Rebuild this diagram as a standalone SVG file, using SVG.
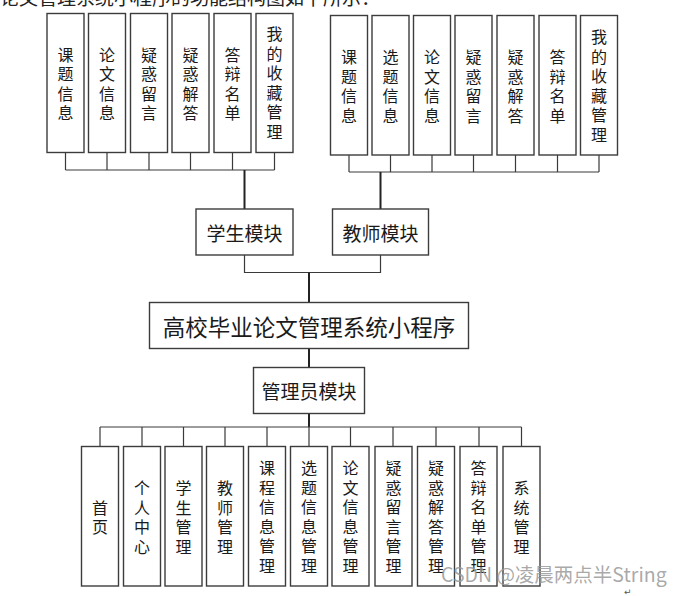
<svg xmlns="http://www.w3.org/2000/svg" width="678" height="596" viewBox="0 0 678 596">
<style>
.box{fill:#fff;stroke:#3c3c3c;stroke-width:1.4}
.t{font-family:"Noto Sans CJK SC","Noto Sans",sans-serif;font-size:16px;fill:#1a1a1a;text-anchor:middle;dominant-baseline:central}
.m{font-family:"Noto Sans CJK SC","Noto Sans",sans-serif;font-size:19px;fill:#1a1a1a;text-anchor:middle;dominant-baseline:central}
.c{fill:none;stroke:#3a3a3a;stroke-width:1.2}
.k{fill:none;stroke:#222;stroke-width:2}
</style>
<rect width="678" height="596" fill="#fff"/>
<text x="0" y="5" style="font-family:'Noto Sans CJK SC',sans-serif;font-size:19px;fill:#222">论文管理系统小程序的功能结构图如下所示：</text>
<g id="connectors">
<path class="c" d="M65.5 152V170M107 152V170M149 152V170M190.5 152V170M232.5 152V170M274.5 152V170M65.5 170H274.5"/>
<path class="k" d="M244.5 170V209"/>
<path class="c" d="M349 155V172M390.5 155V172M432 155V172M473.5 155V172M515.5 155V172M557.5 155V172M599 155V172M349 172H599"/>
<path class="k" d="M380.5 172V209"/>
<path class="c" d="M244.5 255V272.5H380.5V255"/>
<path class="k" d="M309 272.5V302M309 349V367M309 414V427"/>
<path class="c" d="M100 427H521.5M100 427V446M142 427V446M183.5 427V446M225 427V446M267 427V446M309 427V446M350.5 427V446M393 427V446M436 427V446M479 427V446M521.5 427V446"/>
</g>
<g id="s1"><rect class="box" x="47" y="13.5" width="37" height="139"/><text class="t"><tspan x="65.5" y="53.5">课</tspan><tspan x="65.5" y="73">题</tspan><tspan x="65.5" y="92.5">信</tspan><tspan x="65.5" y="112">息</tspan></text></g>
<g id="s2"><rect class="box" x="88.5" y="13.5" width="37" height="139"/><text class="t"><tspan x="107" y="53.5">论</tspan><tspan x="107" y="73">文</tspan><tspan x="107" y="92.5">信</tspan><tspan x="107" y="112">息</tspan></text></g>
<g id="s3"><rect class="box" x="130.5" y="13.5" width="37" height="139"/><text class="t"><tspan x="149" y="53.5">疑</tspan><tspan x="149" y="73">惑</tspan><tspan x="149" y="92.5">留</tspan><tspan x="149" y="112">言</tspan></text></g>
<g id="s4"><rect class="box" x="172" y="13.5" width="37" height="139"/><text class="t"><tspan x="190.5" y="53.5">疑</tspan><tspan x="190.5" y="73">惑</tspan><tspan x="190.5" y="92.5">解</tspan><tspan x="190.5" y="112">答</tspan></text></g>
<g id="s5"><rect class="box" x="214" y="13.5" width="37" height="139"/><text class="t"><tspan x="232.5" y="53.5">答</tspan><tspan x="232.5" y="73">辩</tspan><tspan x="232.5" y="92.5">名</tspan><tspan x="232.5" y="112">单</tspan></text></g>
<g id="s6"><rect class="box" x="256" y="13.5" width="37" height="139"/><text class="t"><tspan x="274.5" y="33">我</tspan><tspan x="274.5" y="52.5">的</tspan><tspan x="274.5" y="72">收</tspan><tspan x="274.5" y="91.5">藏</tspan><tspan x="274.5" y="111">管</tspan><tspan x="274.5" y="130.5">理</tspan></text></g>
<g id="t1"><rect class="box" x="330.5" y="15.5" width="37" height="139.5"/><text class="t"><tspan x="349" y="56">课</tspan><tspan x="349" y="75.5">题</tspan><tspan x="349" y="95">信</tspan><tspan x="349" y="114.5">息</tspan></text></g>
<g id="t2"><rect class="box" x="372" y="15.5" width="37" height="139.5"/><text class="t"><tspan x="390.5" y="56">选</tspan><tspan x="390.5" y="75.5">题</tspan><tspan x="390.5" y="95">信</tspan><tspan x="390.5" y="114.5">息</tspan></text></g>
<g id="t3"><rect class="box" x="413.5" y="15.5" width="37" height="139.5"/><text class="t"><tspan x="432" y="56">论</tspan><tspan x="432" y="75.5">文</tspan><tspan x="432" y="95">信</tspan><tspan x="432" y="114.5">息</tspan></text></g>
<g id="t4"><rect class="box" x="455" y="15.5" width="37" height="139.5"/><text class="t"><tspan x="473.5" y="56">疑</tspan><tspan x="473.5" y="75.5">惑</tspan><tspan x="473.5" y="95">留</tspan><tspan x="473.5" y="114.5">言</tspan></text></g>
<g id="t5"><rect class="box" x="497" y="15.5" width="37" height="139.5"/><text class="t"><tspan x="515.5" y="56">疑</tspan><tspan x="515.5" y="75.5">惑</tspan><tspan x="515.5" y="95">解</tspan><tspan x="515.5" y="114.5">答</tspan></text></g>
<g id="t6"><rect class="box" x="539" y="15.5" width="37" height="139.5"/><text class="t"><tspan x="557.5" y="56">答</tspan><tspan x="557.5" y="75.5">辩</tspan><tspan x="557.5" y="95">名</tspan><tspan x="557.5" y="114.5">单</tspan></text></g>
<g id="t7"><rect class="box" x="580.5" y="15.5" width="37" height="139.5"/><text class="t"><tspan x="599" y="36">我</tspan><tspan x="599" y="55.5">的</tspan><tspan x="599" y="75">收</tspan><tspan x="599" y="94.5">藏</tspan><tspan x="599" y="114">管</tspan><tspan x="599" y="133.5">理</tspan></text></g>
<g id="student"><rect class="box" x="196" y="209" width="97" height="46"/><text class="m" x="244.5" y="232">学生模块</text></g>
<g id="teacher"><rect class="box" x="332.5" y="209" width="96" height="46"/><text class="m" x="380.5" y="232">教师模块</text></g>
<g id="main"><rect class="box" x="149.5" y="302.5" width="319" height="46"/><text class="m" x="309" y="325.5" style="font-size:22.5px">高校毕业论文管理系统小程序</text></g>
<g id="admin"><rect class="box" x="253.5" y="367.5" width="111" height="46"/><text class="m" x="309" y="390.5">管理员模块</text></g>
<g id="b1"><rect class="box" x="81.5" y="446.5" width="37" height="139.5"/><text class="t"><tspan x="100" y="506.5">首</tspan><tspan x="100" y="525.5">页</tspan></text></g>
<g id="b2"><rect class="box" x="123.5" y="446.5" width="37" height="139.5"/><text class="t"><tspan x="142" y="487">个</tspan><tspan x="142" y="506.5">人</tspan><tspan x="142" y="526">中</tspan><tspan x="142" y="545.5">心</tspan></text></g>
<g id="b3"><rect class="box" x="165" y="446.5" width="37" height="139.5"/><text class="t"><tspan x="183.5" y="487">学</tspan><tspan x="183.5" y="506.5">生</tspan><tspan x="183.5" y="526">管</tspan><tspan x="183.5" y="545.5">理</tspan></text></g>
<g id="b4"><rect class="box" x="206.5" y="446.5" width="37" height="139.5"/><text class="t"><tspan x="225" y="487">教</tspan><tspan x="225" y="506.5">师</tspan><tspan x="225" y="526">管</tspan><tspan x="225" y="545.5">理</tspan></text></g>
<g id="b5"><rect class="box" x="248.5" y="446.5" width="37" height="139.5"/><text class="t"><tspan x="267" y="467">课</tspan><tspan x="267" y="486.5">程</tspan><tspan x="267" y="506">信</tspan><tspan x="267" y="525.5">息</tspan><tspan x="267" y="545">管</tspan><tspan x="267" y="564.5">理</tspan></text></g>
<g id="b6"><rect class="box" x="290.5" y="446.5" width="37" height="139.5"/><text class="t"><tspan x="309" y="467">选</tspan><tspan x="309" y="486.5">题</tspan><tspan x="309" y="506">信</tspan><tspan x="309" y="525.5">息</tspan><tspan x="309" y="545">管</tspan><tspan x="309" y="564.5">理</tspan></text></g>
<g id="b7"><rect class="box" x="332" y="446.5" width="37" height="139.5"/><text class="t"><tspan x="350.5" y="467">论</tspan><tspan x="350.5" y="486.5">文</tspan><tspan x="350.5" y="506">信</tspan><tspan x="350.5" y="525.5">息</tspan><tspan x="350.5" y="545">管</tspan><tspan x="350.5" y="564.5">理</tspan></text></g>
<g id="b8"><rect class="box" x="375" y="446.5" width="37" height="139.5"/><text class="t"><tspan x="393.5" y="467">疑</tspan><tspan x="393.5" y="486.5">惑</tspan><tspan x="393.5" y="506">留</tspan><tspan x="393.5" y="525.5">言</tspan><tspan x="393.5" y="545">管</tspan><tspan x="393.5" y="564.5">理</tspan></text></g>
<g id="b9"><rect class="box" x="417.5" y="446.5" width="37" height="139.5"/><text class="t"><tspan x="436" y="467">疑</tspan><tspan x="436" y="486.5">惑</tspan><tspan x="436" y="506">解</tspan><tspan x="436" y="525.5">答</tspan><tspan x="436" y="545">管</tspan><tspan x="436" y="564.5">理</tspan></text></g>
<g id="b10"><rect class="box" x="460" y="446.5" width="37" height="139.5"/><text class="t"><tspan x="478.5" y="467">答</tspan><tspan x="478.5" y="486.5">辩</tspan><tspan x="478.5" y="506">名</tspan><tspan x="478.5" y="525.5">单</tspan><tspan x="478.5" y="545">管</tspan><tspan x="478.5" y="564.5">理</tspan></text></g>
<g id="b11"><rect class="box" x="503" y="446.5" width="37" height="139.5"/><text class="t"><tspan x="521.5" y="487">系</tspan><tspan x="521.5" y="506.5">统</tspan><tspan x="521.5" y="526">管</tspan><tspan x="521.5" y="545.5">理</tspan></text></g>
<text x="441" y="582" style="font-family:'Noto Sans CJK SC','Noto Sans',sans-serif;font-size:19.5px;fill:#9a9a9a;fill-opacity:0.85">CSDN @凌晨两点半String</text>
<text x="624" y="595" style="font-family:'DejaVu Sans',sans-serif;font-size:9px;fill:#555">↵</text>
</svg>
